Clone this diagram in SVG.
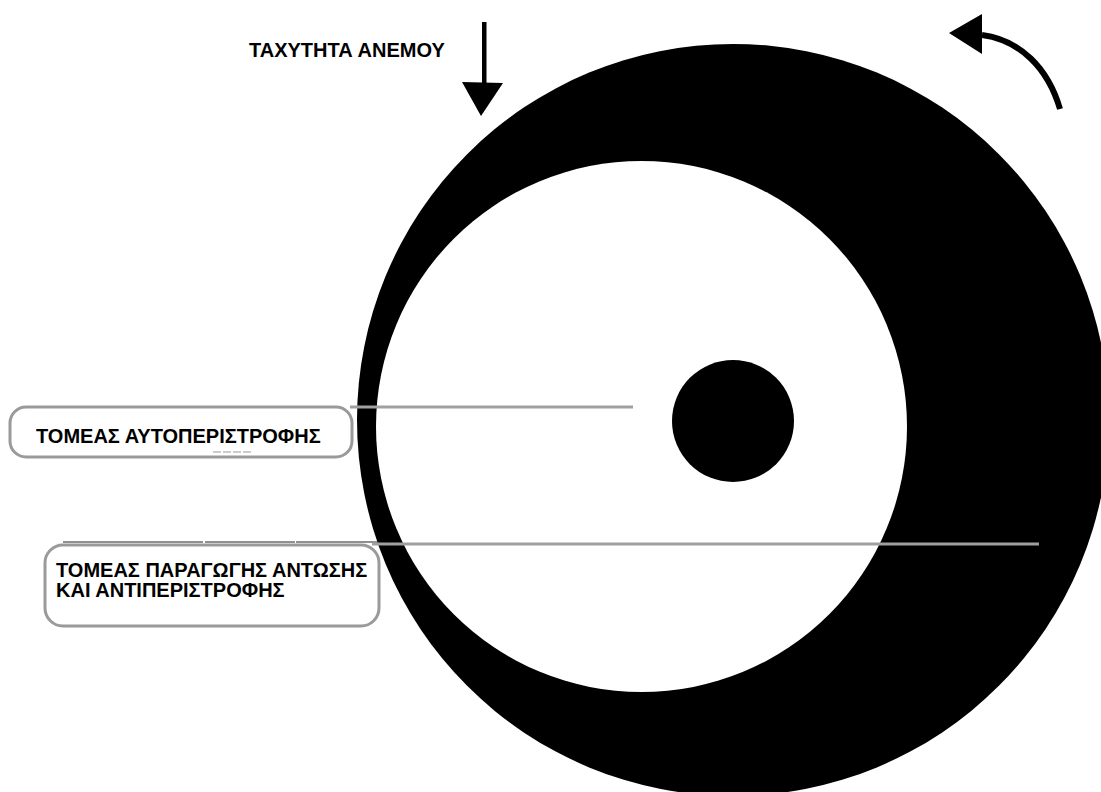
<svg xmlns="http://www.w3.org/2000/svg" width="1101" height="792" viewBox="0 0 1101 792">
<style>
.lbl{font-family:"Liberation Sans",Arial,sans-serif;font-weight:bold;font-size:20px;fill:#000}
.box{fill:none;stroke:#9a9a9a;stroke-width:3}
.lead{stroke:#a0a0a0;stroke-width:3;fill:none}
</style>
<rect width="1101" height="792" fill="#fff"/>
<g id="rotor">
<circle cx="733" cy="420" r="376" fill="#000"/>
<circle cx="641.5" cy="426.5" r="265.5" fill="#fff"/>
<circle cx="733" cy="421" r="61" fill="#000"/>
</g>
<g id="wind">
<text class="lbl" x="249" y="57">ΤΑΧΥΤΗΤΑ ΑΝΕΜΟΥ</text>
<rect x="482" y="22" width="4.5" height="63" fill="#000"/>
<polygon points="462,82 503,83 481,116" fill="#000"/>
</g>
<g id="rotation">
<path d="M 982 35 C 1020 40, 1048 68, 1060 109" stroke="#000" stroke-width="6" fill="none"/>
<polygon points="949,33 982,14 982,54" fill="#000"/>
</g>
<g id="connectors">
<line class="lead" x1="350" y1="407" x2="633" y2="407"/>
<line x1="63" y1="542" x2="380" y2="542" stroke="#222" stroke-width="1.2" stroke-dasharray="140 2 90 1 90"/>
<line class="lead" x1="372" y1="544" x2="1039" y2="544"/>
<line x1="213" y1="452" x2="253" y2="452" stroke="#999" stroke-width="1.2" stroke-dasharray="8 2"/>
</g>
<g id="label-spin">
<rect class="box" x="10" y="407" width="342" height="50" rx="16"/>
<text class="lbl" x="36" y="443">ΤΟΜΕΑΣ ΑΥΤΟΠΕΡΙΣΤΡΟΦΗΣ</text>
</g>
<g id="label-lift">
<rect class="box" x="45" y="545" width="334" height="81" rx="18"/>
<text class="lbl" x="56" y="577">ΤΟΜΕΑΣ ΠΑΡΑΓΩΓΗΣ ΑΝΤΩΣΗΣ</text>
<text class="lbl" x="56" y="597">ΚΑΙ ΑΝΤΙΠΕΡΙΣΤΡΟΦΗΣ</text>
</g>
</svg>
